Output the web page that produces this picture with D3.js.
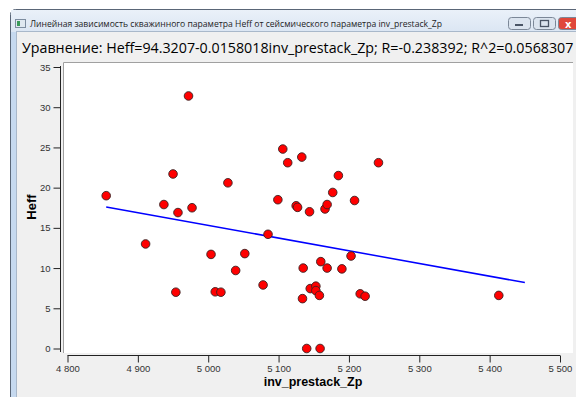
<!DOCTYPE html>
<html>
<head>
  <meta charset="utf-8">
  <style>
    body, html { margin: 0; padding: 0; background: #fff; }
    svg { display: block; }
    .tick text { font-family: "Liberation Sans", Arial, sans-serif; font-size: 9.5px; fill: #333; }
  </style>
</head>
<body>
  <svg id="svg" width="576" height="397"></svg>
  <script src="https://d3js.org/d3.v7.min.js"></script>
  <script>
    const windowTitle = "Линейная зависимость скважинного параметра Heff от сейсмического параметра inv_prestack_Zp"
    const equationText = "Уравнение: Heff=94.3207-0.0158018inv_prestack_Zp; R=-0.238392; R^2=0.0568307"
    const xLabel = "inv_prestack_Zp"
    const yLabel = "Heff"

    // inv_prestack_Zp of every well
    const zp = [4855, 4911, 4937, 4950, 4954, 4957, 4972, 4977, 5004, 5010,
      5018, 5028, 5039, 5052, 5078, 5085, 5099, 5106, 5113, 5125,
      5127, 5133, 5135, 5134, 5140, 5145, 5144, 5153, 5153, 5158,
      5159, 5160, 5166, 5169, 5169, 5177, 5185, 5190, 5203, 5208,
      5216, 5223, 5242, 5413]
    // Heff of every well
    const heff = [19.0, 13.0, 17.9, 21.7, 7.0, 16.9, 31.4, 17.5, 11.7, 7.05,
      7.0, 20.6, 9.7, 11.8, 7.9, 14.2, 18.5, 24.8, 23.1, 17.75,
      17.55, 23.8, 10.0, 6.2, 0, 7.45, 17.0, 7.75, 7.2, 6.6,
      0, 10.8, 17.35, 17.9, 10.0, 19.4, 21.5, 9.9, 11.5, 18.4,
      6.8, 6.5, 23.1, 6.6]

    const intercept = 94.3207
    const slope = -0.0158018
    const lineRange = [4855, 5450]

    const xTicks = [4800, 4900, 5000, 5100, 5200, 5300, 5400, 5500]
    const yTicks = [0, 5, 10, 15, 20, 25, 30, 35]

    const svg = d3.select("#svg")

    // window chrome
    const grad = svg.append("defs").append("linearGradient")
      .attr("id", "tb").attr("x1", 0).attr("y1", 0).attr("x2", 0).attr("y2", 1)
    grad.append("stop").attr("offset", "0").attr("stop-color", "#eaf1f9")
    grad.append("stop").attr("offset", "1").attr("stop-color", "#dbe6f3")

    svg.append("rect").attr("x", 10.5).attr("y", 9.5).attr("width", 600).attr("height", 400)
      .attr("fill", "#c6d9ef").attr("stroke", "#5a6677").attr("rx", 5)
    svg.append("rect").attr("x", 11).attr("y", 10).attr("width", 600).attr("height", 22)
      .attr("fill", "url(#tb)")
    svg.append("rect").attr("x", 16.5).attr("y", 31.5).attr("width", 600).attr("height", 400)
      .attr("fill", "#f0f0f0").attr("stroke", "#a9b8ca")

    // icon
    svg.append("rect").attr("x", 15.5).attr("y", 19.5).attr("width", 10).attr("height", 8)
      .attr("fill", "#dfe8f0").attr("stroke", "#7d8da0")
    svg.append("rect").attr("x", 17).attr("y", 21).attr("width", 3).attr("height", 5).attr("fill", "#3a9a5a")

    svg.append("text").attr("x", 30).attr("y", 27)
      .attr("font-family", "Open Sans, sans-serif").attr("font-size", 8.6).attr("fill", "#1e1e1e")
      .text(windowTitle)

    // caption buttons
    const btn = [{ x: 508, w: 22, c: "#dbe4ef" }, { x: 533, w: 22, c: "#dbe4ef" }, { x: 558, w: 30, c: "#e0473a" }]
    btn.forEach(b => {
      svg.append("rect").attr("x", b.x + 0.5).attr("y", 17.5).attr("width", b.w).attr("height", 12)
        .attr("rx", 3).attr("fill", b.c).attr("stroke", "#7b8797")
    })
    svg.append("rect").attr("x", 515).attr("y", 24).attr("width", 8).attr("height", 2).attr("fill", "#4a5566")
    svg.append("rect").attr("x", 540.5).attr("y", 20.5).attr("width", 8).attr("height", 6)
      .attr("fill", "none").attr("stroke", "#4a5566").attr("stroke-width", 1.3)
    svg.append("text").attr("x", 565).attr("y", 27.5).attr("font-family", "DejaVu Sans").attr("font-weight", "bold")
      .attr("font-size", 10).attr("fill", "#fff").text("x")

    // equation
    svg.append("text").attr("x", 22).attr("y", 53)
      .attr("font-family", "Open Sans, sans-serif").attr("font-size", 14.25).attr("fill", "#000")
      .text(equationText)

    // plot area
    const plot = { left: 63, top: 62, right: 573, bottom: 353 }
    svg.append("rect").attr("x", plot.left).attr("y", plot.top)
      .attr("width", plot.right - plot.left).attr("height", plot.bottom - plot.top).attr("fill", "#fff")
    svg.append("path").attr("d", `M${plot.left + 0.5},${plot.bottom}V${plot.top + 0.5}H${plot.right}`)
      .attr("fill", "none").attr("stroke", "#a0a0a0")

    const xScale = d3.scaleLinear().domain([4800, 5500]).range([67.5, 560])
    const yScale = d3.scaleLinear().domain([0, 35]).range([348.5, 67])

    const loc = d3.formatLocale({ decimal: ".", thousands: " ", grouping: [3] })

    // y axis
    const yAxisG = svg.append("g").attr("transform", "translate(60.5,0)")
    yAxisG.call(d3.axisLeft(yScale).tickValues(d3.range(0, 36, 1)).tickSize(4).tickFormat(""))
    yAxisG.call(d3.axisLeft(yScale).tickValues(yTicks).tickSize(7).tickPadding(3))
    yAxisG.selectAll(".domain").remove()
    yAxisG.append("line").attr("x1", 0).attr("x2", 0).attr("y1", 66).attr("y2", 352).attr("stroke", "#222")
    yAxisG.selectAll("line").attr("stroke", "#222")

    // x axis
    const xAxisG = svg.append("g").attr("transform", "translate(0,355.5)")
    xAxisG.call(d3.axisBottom(xScale).tickValues(d3.range(4800, 5501, 20)).tickSize(4).tickFormat(""))
    xAxisG.call(d3.axisBottom(xScale).tickValues(xTicks).tickSize(7).tickPadding(3).tickFormat(loc.format(",")))
    xAxisG.selectAll(".domain").remove()
    xAxisG.append("line").attr("x1", xScale(4800)).attr("x2", xScale(5500)).attr("stroke", "#222")
    xAxisG.selectAll("line").attr("stroke", "#222")

    // axis titles
    svg.append("text").attr("x", 313).attr("y", 386).attr("text-anchor", "middle")
      .attr("font-family", "Liberation Sans, Arial, sans-serif").attr("font-weight", "bold").attr("font-size", 12.5)
      .text(xLabel)
    svg.append("text").attr("transform", "translate(36,207) rotate(-90)").attr("text-anchor", "middle")
      .attr("font-family", "Liberation Sans, Arial, sans-serif").attr("font-weight", "bold").attr("font-size", 13)
      .text(yLabel)

    // regression line
    const line = d3.line().x(d => xScale(d)).y(d => yScale(intercept + slope * d))
    svg.append("path").attr("d", line(lineRange))
      .attr("fill", "none").attr("stroke", "#0000ff").attr("stroke-width", 1.5)

    // wells
    svg.append("g").selectAll("circle")
      .data(zp.map((x, i) => ({ x, y: heff[i] })))
      .join("circle")
      .attr("cx", d => xScale(d.x))
      .attr("cy", d => yScale(d.y))
      .attr("r", 4.3)
      .attr("fill", "#ff0000")
      .attr("stroke", "#3a2020")
      .attr("stroke-width", 0.9)
  </script>
</body>
</html>
